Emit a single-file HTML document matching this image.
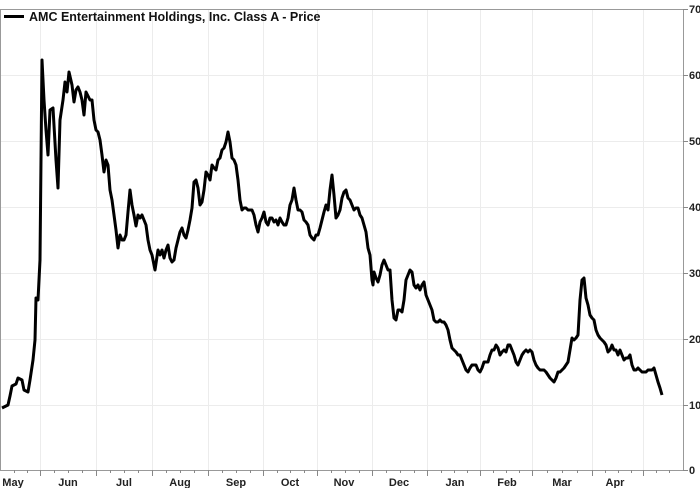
<!DOCTYPE html>
<html><head><meta charset="utf-8"><style>
html,body{margin:0;padding:0;background:#fff;}
svg{display:block;font-family:"Liberation Sans",Arial,sans-serif;}
</style></head><body>
<svg width="700" height="488" viewBox="0 0 700 488">
<rect x="0" y="0" width="700" height="488" fill="#fff"/>
<g stroke="#ececec" stroke-width="1">
<line x1="1" y1="75.5" x2="683" y2="75.5"/><line x1="1" y1="141.5" x2="683" y2="141.5"/>
<line x1="1" y1="207.5" x2="683" y2="207.5"/><line x1="1" y1="273.5" x2="683" y2="273.5"/>
<line x1="1" y1="339.5" x2="683" y2="339.5"/><line x1="1" y1="405.5" x2="683" y2="405.5"/>
<line x1="40.5" y1="9" x2="40.5" y2="470"/><line x1="96.5" y1="9" x2="96.5" y2="470"/>
<line x1="152.5" y1="9" x2="152.5" y2="470"/><line x1="208.5" y1="9" x2="208.5" y2="470"/>
<line x1="263.5" y1="9" x2="263.5" y2="470"/><line x1="317.5" y1="9" x2="317.5" y2="470"/>
<line x1="372.5" y1="9" x2="372.5" y2="470"/><line x1="427.5" y1="9" x2="427.5" y2="470"/>
<line x1="480.5" y1="9" x2="480.5" y2="470"/><line x1="532.5" y1="9" x2="532.5" y2="470"/>
<line x1="592.5" y1="9" x2="592.5" y2="470"/><line x1="643.5" y1="9" x2="643.5" y2="470"/>
</g>
<rect x="0.5" y="9.5" width="683" height="461" fill="none" stroke="#999" stroke-width="1"/>
<g stroke="#888" stroke-width="1">
<line x1="683" y1="9.5" x2="688" y2="9.5"/><line x1="683" y1="75.5" x2="688" y2="75.5"/>
<line x1="683" y1="141.5" x2="688" y2="141.5"/><line x1="683" y1="207.5" x2="688" y2="207.5"/>
<line x1="683" y1="273.5" x2="688" y2="273.5"/><line x1="683" y1="339.5" x2="688" y2="339.5"/>
<line x1="683" y1="405.5" x2="688" y2="405.5"/><line x1="683" y1="470.5" x2="688" y2="470.5"/>
<line x1="40.5" y1="470" x2="40.5" y2="476"/><line x1="96.5" y1="470" x2="96.5" y2="476"/>
<line x1="152.5" y1="470" x2="152.5" y2="476"/><line x1="208.5" y1="470" x2="208.5" y2="476"/>
<line x1="263.5" y1="470" x2="263.5" y2="476"/><line x1="317.5" y1="470" x2="317.5" y2="476"/>
<line x1="372.5" y1="470" x2="372.5" y2="476"/><line x1="427.5" y1="470" x2="427.5" y2="476"/>
<line x1="480.5" y1="470" x2="480.5" y2="476"/><line x1="532.5" y1="470" x2="532.5" y2="476"/>
<line x1="592.5" y1="470" x2="592.5" y2="476"/><line x1="643.5" y1="470" x2="643.5" y2="476"/>
</g>
<g stroke="#888" stroke-width="1">
<path d="M14.5 470v3M27.5 470v3M54.5 470v3M68.5 470v3M82.5 470v3M110.5 470v3M124.5 470v3M138.5 470v3M166.5 470v3M180.5 470v3M194.5 470v3M222.5 470v3M236.5 470v3M250.5 470v3M277.5 470v3M290.5 470v3M304.5 470v3M331.5 470v3M345.5 470v3M359.5 470v3M386.5 470v3M400.5 470v3M414.5 470v3M441.5 470v3M454.5 470v3M467.5 470v3M493.5 470v3M506.5 470v3M519.5 470v3M547.5 470v3M562.5 470v3M577.5 470v3M605.5 470v3M618.5 470v3M631.5 470v3M656.5 470v3M669.5 470v3"/>
</g>
<g font-size="11" font-weight="bold" fill="#222">
<text x="689" y="13">70</text><text x="689" y="79">60</text><text x="689" y="145">50</text>
<text x="689" y="211">40</text><text x="689" y="277">30</text><text x="689" y="343">20</text>
<text x="689" y="409">10</text><text x="689" y="474">0</text>
</g>
<g font-size="11" font-weight="bold" fill="#222" text-anchor="middle">
<text x="13" y="486">May</text><text x="68" y="486">Jun</text><text x="124" y="486">Jul</text>
<text x="180" y="486">Aug</text><text x="236" y="486">Sep</text><text x="290" y="486">Oct</text>
<text x="344" y="486">Nov</text><text x="399" y="486">Dec</text><text x="455" y="486">Jan</text>
<text x="507" y="486">Feb</text><text x="562" y="486">Mar</text><text x="615" y="486">Apr</text>
</g>
<line x1="4" y1="16.5" x2="24" y2="16.5" stroke="#000" stroke-width="3"/>
<text x="29" y="21" font-size="12.5" font-weight="bold" fill="#111">AMC Entertainment Holdings, Inc. Class A - Price</text>
<polyline fill="none" stroke="#000" stroke-width="3" stroke-linejoin="round" points="2,408 8,405 10,396 12,386 16,384 18,378 22,380 24,390 28,392 30,380 33,360 35,340 36,298 38,300 40,260 42,60 44,100 46,130 48,155 50,110 53,108 56,160 58,188 60,120 63,100 65,82 67,92 69,72 72,85 74,102 76,90 78,87 80,92 82,100 84,115 86,92 88,96 90,100 92,100 94,120 96,130 98,132 100,140 102,155 104,172 106,160 108,165 110,190 112,200 114,215 116,230 118,248 120,235 122,240 124,240 126,235 128,212 130,190 132,205 134,215 136,226 138,215 140,218 142,215 144,220 146,225 148,240 150,250 152,255 155,270 158,250 160,255 162,250 164,258 166,250 168,245 170,258 172,262 174,260 176,248 178,240 180,232 182,228 184,235 186,238 188,230 190,220 192,208 194,182 196,180 198,188 200,205 202,202 204,190 206,172 208,175 210,180 212,165 214,168 216,170 218,160 220,158 222,150 224,148 226,142 228,132 230,142 232,158 234,160 236,165 238,180 240,200 242,210 244,208 246,208 248,210 250,210 252,210 254,215 256,225 258,232 260,222 262,218 264,212 266,222 268,225 270,218 272,218 274,222 276,220 278,225 280,218 282,222 284,225 286,225 288,218 290,205 292,200 294,188 296,200 298,210 300,210 302,212 304,220 306,222 308,225 310,235 312,238 314,240 316,235 318,235 320,228 322,220 324,212 326,205 328,210 330,190 332,175 334,195 336,218 338,215 340,210 342,198 344,192 346,190 348,198 350,200 352,205 354,210 356,208 358,208 360,215 362,218 364,225 366,232 368,248 370,255 372,280 373,285 374,272 376,278 378,282 380,275 382,265 384,260 386,265 388,270 390,270 392,300 394,318 396,320 398,310 400,310 402,312 404,300 406,280 408,275 410,270 412,272 414,285 416,288 418,285 420,290 422,285 424,282 426,295 428,300 430,305 432,310 434,320 436,322 438,322 440,320 442,322 444,322 446,325 448,330 450,340 452,348 454,350 456,352 458,355 460,355 462,360 464,365 466,370 468,372 470,368 472,365 474,365 476,365 478,370 480,372 482,368 484,362 486,362 488,362 490,355 492,350 494,350 496,345 498,348 500,355 502,352 504,350 506,352 508,345 510,345 512,350 514,355 516,362 518,365 520,360 522,355 524,352 526,350 528,352 530,350 532,352 534,360 536,365 538,368 540,370 542,370 544,370 546,372 548,375 550,378 552,380 554,382 556,378 558,372 560,372 562,370 564,368 566,365 568,362 570,350 572,338 574,340 576,338 578,335 580,300 582,280 584,278 586,298 588,305 590,315 592,318 594,320 596,330 598,335 600,338 602,340 604,342 606,345 608,352 610,350 612,345 614,350 616,350 618,355 620,350 622,355 624,360 626,358 628,358 630,355 632,365 634,370 636,370 638,368 640,370 642,372 644,372 646,372 648,370 650,370 652,370 654,368 656,375 658,382 660,388 662,395"/>
</svg>
</body></html>
